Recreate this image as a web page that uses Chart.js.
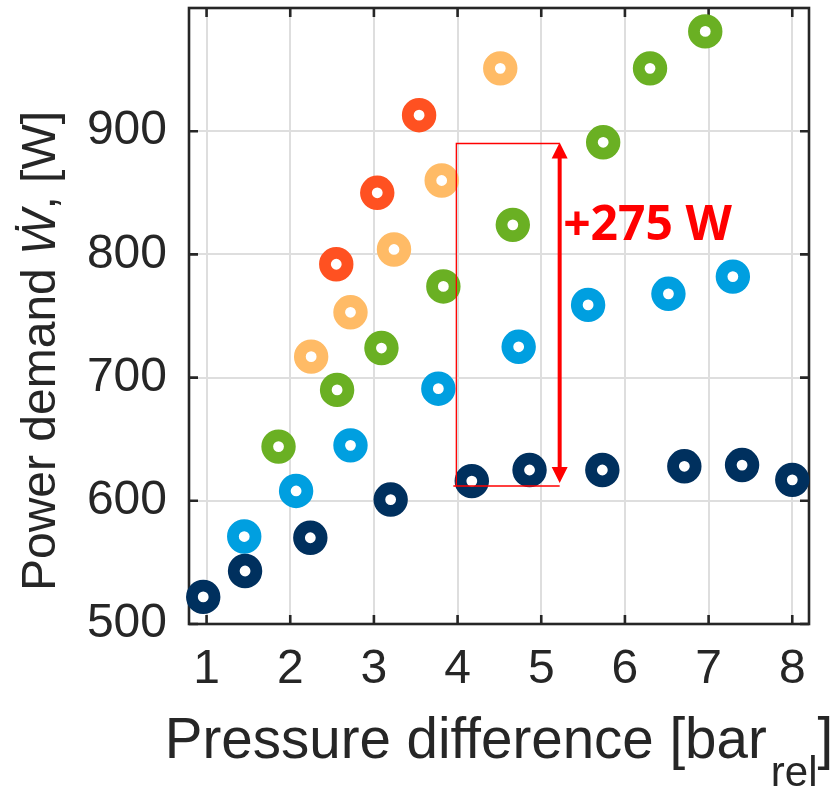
<!doctype html>
<html>
<head>
<meta charset="utf-8">
<script src="https://cdn.jsdelivr.net/npm/chart.js@4.4.1/dist/chart.umd.min.js"></script>
<style>
  html,body{margin:0;padding:0;background:#fff}
  canvas{display:block}
</style>
</head>
<body>
<canvas id="c" width="836" height="788"></canvas>
<script>
// tick labels
const xTicks = [1, 2, 3, 4, 5, 6, 7, 8];
const yTicks = [500, 600, 700, 800, 900];

// pressure difference [bar_rel] / power demand [W], one pair per series
const navyP = [0.96, 1.46, 2.24, 3.20, 4.17, 4.86, 5.73, 6.71, 7.40, 8.00];
const navyW = [522, 543, 570, 601, 616, 625, 625, 628, 629, 617];
const blueP = [1.45, 2.07, 2.72, 3.77, 4.73, 5.56, 6.52, 7.29];
const blueW = [571, 608, 645, 691, 725, 759, 768, 782];
const greenP = [1.86, 2.56, 3.09, 3.83, 4.66, 5.74, 6.30, 6.96];
const greenW = [644, 690, 724, 774, 824, 891, 951, 981];
const orangeP = [2.25, 2.72, 3.24, 3.81, 4.51];
const orangeW = [717, 753, 804, 860, 951];
const redP = [2.55, 3.04, 3.54];
const redW = [792, 850, 913];

// +275 W bracket (data coords)
const bracketLeft = 3.985, bracketRight = 5.22;
const bracketTop = 890, bracketBottom = 612;
const deltaText = '+275 W';
const deltaX = 5.262, deltaY = 812;

const INK = '#262626';
const FONT = '"Liberation Sans", Arial, Helvetica, sans-serif';

const pts = (xs, ys) => xs.map((x, i) => ({ x, y: ys[i] }));
const ring = (label, xs, ys, color) => ({
  label, data: pts(xs, ys),
  borderColor: color, backgroundColor: '#fff',
  pointRadius: 11.3, pointBorderWidth: 11.8, pointStyle: 'circle',
  showLine: false, clip: false,
});

// box, inward ticks on all four sides (MATLAB style)
const frame = {
  id: 'frame',
  beforeDatasetsDraw(chart) {
    const { ctx, chartArea: a, scales: { x, y } } = chart;
    ctx.save();
    ctx.strokeStyle = INK;
    ctx.lineWidth = 2.6;
    ctx.strokeRect(a.left, a.top, a.right - a.left, a.bottom - a.top);
    ctx.beginPath();
    for (const v of xTicks) {
      const p = x.getPixelForValue(v);
      ctx.moveTo(p, a.bottom); ctx.lineTo(p, a.bottom - 9);
      ctx.moveTo(p, a.top); ctx.lineTo(p, a.top + 9);
    }
    for (const v of yTicks) {
      const p = y.getPixelForValue(v);
      ctx.moveTo(a.left, p); ctx.lineTo(a.left + 9, p);
      ctx.moveTo(a.right, p); ctx.lineTo(a.right - 9, p);
    }
    ctx.stroke();
    ctx.restore();
  },
  afterDraw(chart) {
    const { ctx, chartArea: a } = chart;
    ctx.save();
    ctx.fillStyle = INK;
    ctx.textBaseline = 'alphabetic';

    // x title with subscript
    const main = 'Pressure difference [bar', sub = 'rel', close = ']';
    ctx.font = `56.5px ${FONT}`;
    const wMain = ctx.measureText(main).width, wClose = ctx.measureText(close).width;
    ctx.font = `42px ${FONT}`;
    const wSub = ctx.measureText(sub).width;
    const gap = 4;
    let x0 = (a.left + a.right) / 2 - (wMain + gap + wSub + wClose) / 2;
    ctx.font = `56.5px ${FONT}`;
    ctx.fillText(main, x0, 758);
    ctx.font = `42px ${FONT}`;
    ctx.fillText(sub, x0 + wMain + gap, 786);
    ctx.font = `56.5px ${FONT}`;
    ctx.fillText(close, x0 + wMain + gap + wSub, 758);

    // y title, rotated, italic W-dot
    const parts = [['Power demand ', ''], ['\u1E86', 'italic '], [', [W]', '']];
    let total = 0;
    for (const [t, st] of parts) { ctx.font = `${st}48px ${FONT}`; total += ctx.measureText(t).width; }
    ctx.translate(55, 351);
    ctx.rotate(-Math.PI / 2);
    let rx = -total / 2;
    for (const [t, st] of parts) {
      ctx.font = `${st}48px ${FONT}`;
      ctx.fillText(t, rx, 0);
      rx += ctx.measureText(t).width;
    }
    ctx.restore();
  },
  afterDatasetsDraw(chart) {
    const { ctx, scales: { x, y } } = chart;
    const xl = x.getPixelForValue(bracketLeft), xr = x.getPixelForValue(bracketRight);
    const yt = y.getPixelForValue(bracketTop), yb = y.getPixelForValue(bracketBottom);
    ctx.save();
    ctx.strokeStyle = '#ff0000';
    ctx.lineWidth = 1.3;
    ctx.beginPath();
    ctx.moveTo(xr, yt); ctx.lineTo(xl, yt); ctx.lineTo(xl, yb);
    ctx.moveTo(xl - 3, yb); ctx.lineTo(xr, yb);
    ctx.stroke();

    // double arrow
    const tipT = yt - 1, tipB = yb - 3, hw = 8, hl = 16;
    ctx.fillStyle = '#ff0000';
    ctx.lineWidth = 4;
    ctx.beginPath();
    ctx.moveTo(xr, tipT + hl - 1); ctx.lineTo(xr, tipB - hl + 1);
    ctx.stroke();
    ctx.beginPath();
    ctx.moveTo(xr, tipT); ctx.lineTo(xr - hw, tipT + hl); ctx.lineTo(xr + hw, tipT + hl); ctx.closePath();
    ctx.moveTo(xr, tipB); ctx.lineTo(xr - hw, tipB - hl); ctx.lineTo(xr + hw, tipB - hl); ctx.closePath();
    ctx.fill();

    ctx.font = 'bold 48px "Open Sans", "Liberation Sans", sans-serif';
    ctx.textBaseline = 'alphabetic';
    ctx.fillText(deltaText, x.getPixelForValue(deltaX), y.getPixelForValue(deltaY));
    ctx.restore();
  }
};

new Chart(document.getElementById('c'), {
  type: 'scatter',
  data: {
    datasets: [
      ring('navy', navyP, navyW, '#00305e'),
      ring('blue', blueP, blueW, '#009fe0'),
      ring('green', greenP, greenW, '#6ab023'),
      ring('orange', orangeP, orangeW, '#ffbb66'),
      ring('red', redP, redW, '#ff5121'),
    ]
  },
  options: {
    responsive: false,
    animation: false,
    events: [],
    layout: { autoPadding: false, padding: { left: 0, top: 8, right: 27, bottom: 0 } },
    plugins: { legend: { display: false }, tooltip: { enabled: false } },
    scales: {
      x: {
        type: 'linear', min: 0.79, max: 8.2,
        afterBuildTicks: s => { s.ticks = xTicks.map(v => ({ value: v })); },
        afterFit: s => { s.height = 164; s.paddingLeft = s.paddingRight = 0; },
        ticks: { color: INK, font: { family: FONT, size: 48 }, padding: 17, maxRotation: 0, autoSkip: false },
        grid: { color: '#dedede', lineWidth: 2, drawTicks: false },
        border: { display: false },
      },
      y: {
        type: 'linear', min: 500, max: 1000,
        afterBuildTicks: s => { s.ticks = yTicks.map(v => ({ value: v })); },
        afterFit: s => { s.width = 189; s.paddingTop = s.paddingBottom = 0; },
        ticks: { color: INK, font: { family: FONT, size: 48 }, padding: 22, autoSkip: false },
        grid: { color: '#dedede', lineWidth: 2, drawTicks: false },
        border: { display: false },
      }
    }
  },
  plugins: [frame]
});
</script>
</body>
</html>
